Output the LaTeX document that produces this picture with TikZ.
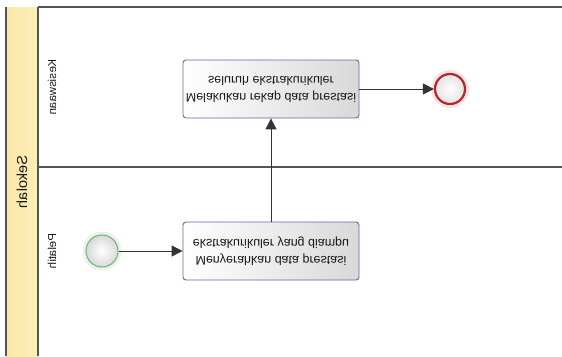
\documentclass[tikz,border=0pt]{standalone}
\usepackage{fontspec}
\setmainfont{Liberation Sans}
\usetikzlibrary{arrows.meta}
\definecolor{poolyellow}{HTML}{FDEFBB}
\definecolor{poolyellowb}{HTML}{FBE7A6}
\definecolor{lineg}{HTML}{555555}
\definecolor{taskborder}{HTML}{5C6E9E}
\definecolor{startg}{HTML}{6DB36D}
\definecolor{endr}{HTML}{B5262B}
\tikzset{
  lanelabel/.style={font=\fontsize{11.5}{13}\selectfont, yscale=-1, rotate=90, inner sep=0pt, text=black!90},
  poollabel/.style={font=\fontsize{14.5}{16}\selectfont, yscale=-1, rotate=90, inner sep=0pt, text=black!90},
  task/.style={draw=taskborder, line width=0.9pt, rounded corners=3pt,
    minimum width=176pt, minimum height=58pt, left color=white, right color=gray!30,
    align=center, font=\fontsize{12.5}{17}\selectfont, yscale=-1, inner sep=2pt, text=black!90},
  startev/.style={circle, draw=startg, line width=1pt, minimum size=32pt, inner sep=0pt,
    inner color=white, outer color=gray!30},
  endev/.style={circle, draw=endr, line width=2.2pt, minimum size=30pt, inner sep=0pt,
    inner color=white, outer color=gray!22},
  conn/.style={draw=black!80, line width=1pt, -{Triangle[length=11pt,width=11pt]}},
  poolline/.style={draw=lineg, line width=1.2pt}
}
\begin{document}
\begin{tikzpicture}[x=1pt,y=-1pt]
\useasboundingbox (0,0) rectangle (562,356);
\fill[white] (0,0) rectangle (562,356);
% pool band
\fill[left color=poolyellowb, right color=poolyellow] (6,7) rectangle (38,356);
\draw[poolline] (6,7) -- (6,356);
\draw[poolline] (38,7) -- (38,356);
\draw[poolline] (38,7) -- (562,7);
\draw[poolline] (38,167) -- (562,167);
% labels
\node[poollabel] (sek) at (22,182) {Sekolah};
\node[lanelabel] (kes) at (52,87) {Kesiswaan};
\node[lanelabel] (pel) at (52,251) {Pelatih};
% glows
\fill[startg, opacity=0.15] (102,251) circle (19.5);
\fill[endr, opacity=0.12] (450,89) circle (19);
% nodes
\node[task] (rekap) at (271,89) {Melakukan rekap data prestasi\\seluruh ekstrakurikuler};
\node[task] (serah) at (271,251) {Menyerahkan data prestasi\\ekstrakurikuler yang diampu};
\node[startev] (start) at (102,251) {};
\node[endev] (end) at (450,89) {};
% connectors
\draw[conn] (start) -- (serah);
\draw[conn] (serah) -- (rekap);
\draw[conn] (rekap) -- (end);
\end{tikzpicture}
\end{document}
